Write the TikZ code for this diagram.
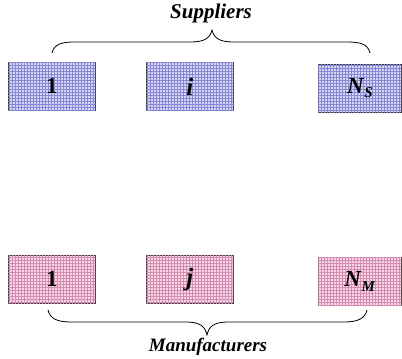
\documentclass[tikz,border=0pt]{standalone}
\usepackage{fontspec}
\setmainfont{Liberation Serif}
\usetikzlibrary{patterns}
\definecolor{supfill}{RGB}{214,214,246}
\definecolor{supline}{RGB}{135,135,212}
\definecolor{manfill}{RGB}{246,214,232}
\definecolor{manline}{RGB}{212,140,175}
\tikzset{
  box/.style={draw=black!75, line width=0.8pt, minimum width=87pt, minimum height=48pt, anchor=north west, inner sep=0pt, font=\fontsize{23}{25}\selectfont\bfseries},
  supbox/.style={box, fill=supfill, postaction={pattern=grid, pattern color=supline}},
  manbox/.style={box, fill=manfill, postaction={pattern=grid, pattern color=manline}},
  bracepath/.style={draw=black, line width=0.8pt},
  title/.style={font=\fontsize{21}{23}\selectfont\bfseries\itshape}
}
\newcommand{\subl}[2]{\textit{#1}\raisebox{-0.4ex}{\fontsize{15}{15}\selectfont\textit{#2}}}
\newcommand{\bigit}[1]{{\fontsize{25}{26}\selectfont\textit{#1}}}
\begin{document}
\begin{tikzpicture}[x=1pt,y=-1pt]
\useasboundingbox (0,0) rectangle (402,359);
% suppliers
\node[title] (suptitle) at (211,13) {Suppliers};
\node[supbox] (s1) at (8,62) {1};
\node[supbox] (si) at (146,62) {\bigit{i}};
\node[supbox, minimum width=83pt] (sn) at (318,64) {\subl{N}{S}};
\coordinate (stl) at (52,53);
\coordinate (str) at (370,53);
\coordinate (stm) at (212,30);
\draw[bracepath] (stl) .. controls (54,44) and (62,42) .. (75,42)
  -- (190,42) .. controls (205,42) and (210,38) .. (stm)
  .. controls (214,38) and (219,42) .. (234,42)
  -- (347,42) .. controls (360,42) and (368,44) .. (str);
% manufacturers
\node[manbox] (m1) at (8,255) {1};
\node[manbox] (mj) at (146,255) {\bigit{j}};
\node[manbox, minimum width=83pt] (mn) at (318,257) {\subl{N}{M}};
\coordinate (mbl) at (48,310);
\coordinate (mbr) at (367,310);
\coordinate (mbm) at (207,335);
\draw[bracepath] (mbl) .. controls (50,319) and (58,322) .. (71,322)
  -- (185,322) .. controls (200,322) and (205,326) .. (mbm)
  .. controls (209,326) and (214,322) .. (229,322)
  -- (344,322) .. controls (357,322) and (365,319) .. (mbr);
\node[title, font=\fontsize{19}{21}\selectfont\bfseries\itshape] (mantitle) at (208,347) {Manufacturers};
\end{tikzpicture}
\end{document}
